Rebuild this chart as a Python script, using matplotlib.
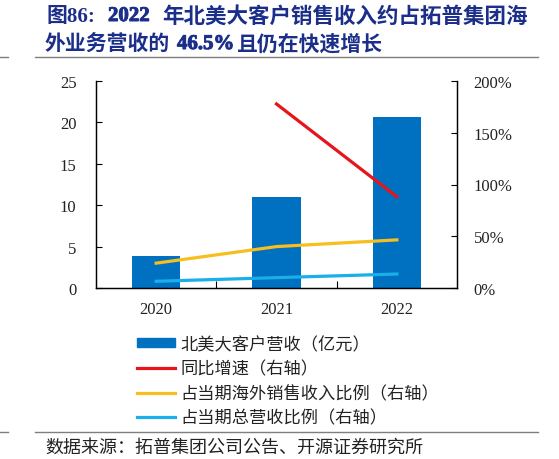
import matplotlib
matplotlib.use("Agg")
import matplotlib.pyplot as plt
import matplotlib.patheffects as pe
import numpy as np
from matplotlib.lines import Line2D

years = ["2020", "2021", "2022"]
na_revenue = [3.9, 11.0, 20.7]           # 亿元
yoy_growth = [np.nan, 177.8, 88.2]       # %
share_overseas = [24.0, 40.0, 46.5]      # %
share_total = [6.5, 10.0, 13.5]          # %

left_ticks = [0, 5, 10, 15, 20, 25]
right_ticks = [0, 50, 100, 150, 200]

title_l1 = ["图86:", "2022", "年北美大客户销售收入约占拓普集团海"]
title_l2 = ["外业务营收的", "46.5%", "且仍在快速增长"]
source = "数据来源：拓普集团公司公告、开源证券研究所"
labels = ["北美大客户营收（亿元）", "同比增速（右轴）", "占当期海外销售收入比例（右轴）", "占当期总营收比例（右轴）"]

C_BAR = "#0070C0"
C_RED = "#E8141B"
C_YEL = "#F7BE1E"
C_LB = "#1AAEEA"
TITLE_C = "#1B2F8A"

serif = ["Liberation Serif", "Noto Sans CJK SC"]
cjk = ["Noto Sans CJK SC", "DejaVu Sans"]

W, H = 559, 460
fig = plt.figure(figsize=(W/100, H/100), dpi=100)
ax = fig.add_axes([96/W, 1-289/H, (457-96)/W, (289-82)/H])
ax2 = ax.twinx()

x = np.arange(len(years))
ax.bar(x, na_revenue, width=0.4, color=C_BAR, zorder=2)
ax.set_xlim(-0.5, 2.5)
ax.set_ylim(0, 25)
ax.set_yticks(left_ticks)
ax.set_xticks(x)
ax.set_xticklabels(years)
ax.set_xticks([0.5, 1.5], minor=True)
ax.tick_params(axis="x", which="major", length=0, pad=9)
ax.tick_params(axis="x", which="minor", direction="in", length=5, width=0.8)
ax.tick_params(axis="y", direction="in", length=4, width=0.8, pad=14)

ax2.plot(x, yoy_growth, color=C_RED, lw=2.3, zorder=3)
ax2.plot(x, share_overseas, color=C_YEL, lw=2.3, zorder=3)
ax2.plot(x, share_total, color=C_LB, lw=2.3, zorder=3)
ax2.set_ylim(0, 200)
ax2.set_yticks(right_ticks)
ax2.set_yticklabels([f"{v}%" for v in right_ticks])
ax2.tick_params(axis="y", direction="in", length=4, width=0.8, pad=12)

for a in (ax, ax2):
    a.spines["top"].set_visible(False)
    for s in a.spines.values():
        s.set_linewidth(0.9)
    for lab in a.get_xticklabels() + a.get_yticklabels():
        lab.set_fontfamily(serif)
        lab.set_fontsize(12)
        lab.set_color("#222222")

thick = [pe.withStroke(linewidth=0.7, foreground=TITLE_C)]

# Title (pieces placed to mimic justified layout)
for i, (txt, px, fs) in enumerate(zip(title_l1, [46, 108, 162], [15, 15, 15.5])):
    fig.text(px/W, 1-17/H, txt, fontsize=fs, fontweight="bold", color=TITLE_C,
             family=serif, va="center", ha="left",
             path_effects=thick if i == 1 else None)
for i, (txt, px) in enumerate(zip(title_l2, [45, 177, 237])):
    fig.text(px/W, 1-45/H, txt, fontsize=15, fontweight="bold", color=TITLE_C,
             family=serif, va="center", ha="left",
             path_effects=thick if i == 1 else None)

# Separator lines
for yy in (1-57.5/H, 1-433/H):
    fig.add_artist(Line2D([35/W, 538/W], [yy, yy], color="#7F7F7F", lw=1.0))
    fig.add_artist(Line2D([0, 8/W], [yy, yy], color="#7F7F7F", lw=1.0))

fig.text(45/W, 1-448/H, source, fontsize=13, color="#222222", family=cjk,
         va="center", ha="left")

# Legend
handles = [plt.Rectangle((0, 0), 1, 1, color=C_BAR),
           Line2D([], [], color=C_RED, lw=2.3),
           Line2D([], [], color=C_YEL, lw=2.3),
           Line2D([], [], color=C_LB, lw=2.3)]
leg = fig.legend(handles, labels, loc="upper left", bbox_to_anchor=(137/W, 1-336/H),
                 frameon=False, prop={"family": cjk, "size": 12.4}, handlelength=2.2,
                 handleheight=0.45, handletextpad=0.3, labelspacing=0.38, borderpad=0,
                 borderaxespad=0)
for t in leg.get_texts():
    t.set_color("#222222")

fig.savefig("out.png", dpi=100)
